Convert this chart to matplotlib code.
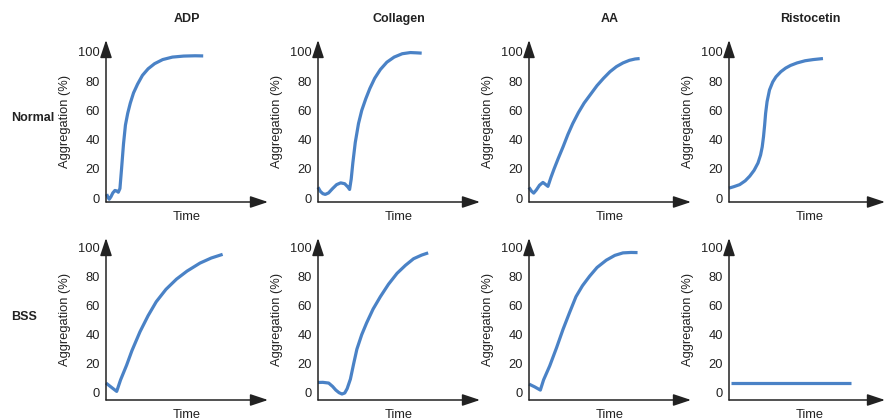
import matplotlib
matplotlib.use("Agg")
import matplotlib.pyplot as plt

plt.rcParams['font.family'] = ['Liberation Sans', 'DejaVu Sans']

# Column (agonist) and row (patient group) names
agonists = ["ADP", "Collagen", "AA", "Ristocetin"]
groups = ["Normal", "BSS"]

# Aggregation traces: time (arbitrary units) and aggregation (%)
normal_adp_t = [0.4, 1.2, 2.0, 3.0, 4.2, 5.5, 6.5, 7.6, 8.6, 9.6, 10.8, 12.0, 13.4, 15.0,
                17.0, 19.5, 22.5, 26, 30, 35, 41, 48, 55, 60]
normal_adp_y = [2.7, 0.5, -0.8, 0.8, 3.5, 5.2, 4.9, 4.0, 6.5, 20, 37, 50, 58, 65,
                72, 78, 84, 88.5, 92, 94.8, 96.5, 97.2, 97.4, 97.3]

normal_col_t = [0, 1.5, 3, 4.5, 6.5, 9, 11.5, 14, 16.5, 18.5, 19.5, 20.5, 21.5, 23, 25,
                27, 29.5, 32, 35, 38.5, 42.5, 47, 52, 57, 61, 64]
normal_col_y = [7.4, 4.5, 3, 2.5, 3.5, 6.5, 9.2, 10.4, 9.8, 7.5, 5.9, 13, 24, 38, 51,
                60, 68, 75, 82, 88, 93, 96.5, 98.8, 99.6, 99.4, 99.2]

normal_aa_t = [0, 1.5, 2.9, 4.5, 6.5, 8.6, 10, 11.7, 13.5, 15.5, 18, 21, 24, 27, 30.5,
               34, 38, 42, 46, 50, 54, 58, 62, 65.5, 68.3]
normal_aa_y = [7.3, 4.8, 3.4, 5.5, 8.8, 10.7, 9.5, 8.0, 14, 20, 27, 35, 43.5, 51, 58.5,
               65, 71, 77, 82, 86.5, 90, 92.5, 94.3, 95.2, 95.5]

normal_ris_t = [0, 3, 6.6, 10, 12.8, 15.5, 17.9, 19.5, 20.5, 21.3, 22, 22.6, 23.5, 25,
                27, 29, 32, 35, 38, 42, 47, 52, 58]
normal_ris_y = [6.8, 7.8, 9.2, 11.8, 15, 19, 24, 29.5, 35, 42, 50, 58, 66, 74,
                79.5, 83, 86.5, 89, 90.8, 92.5, 94, 94.8, 95.5]

bss_adp_t = [0, 3, 6.6, 9, 12.7, 16, 21, 26, 31, 37, 43.5, 50, 58, 65, 72]
bss_adp_y = [6.8, 4.2, 1.1, 9, 19, 29, 42, 53, 62.5, 71, 78, 83.5, 89, 92.5, 95]

bss_col_t = [0, 3, 6.6, 9, 11, 13, 14.8, 16.5, 18, 20, 22, 24, 27, 30, 34, 38.5,
             43.5, 48.8, 54, 59, 64, 68]
bss_col_y = [7.2, 7.3, 6.8, 4.5, 2, 0.2, -0.7, 0, 3, 9.5, 20, 30, 40, 48, 57.5, 66,
             74.5, 82, 87.5, 92, 94.5, 96]

bss_aa_t = [0, 3.5, 7, 9, 12.8, 17, 21, 25, 29, 33, 37.4, 42, 47.7, 53, 58, 63, 67]
bss_aa_y = [6.1, 4.2, 2, 9, 18.6, 31, 43.6, 55, 66, 73.5, 80, 86, 91, 94.3, 96, 96.3, 96.2]

bss_ris_t = [1, 75.5]
bss_ris_y = [6.8, 6.8]

y_ticks = [0, 20, 40, 60, 80, 100]

traces = [
    [(normal_adp_t, normal_adp_y), (normal_col_t, normal_col_y),
     (normal_aa_t, normal_aa_y), (normal_ris_t, normal_ris_y)],
    [(bss_adp_t, bss_adp_y), (bss_col_t, bss_col_y),
     (bss_aa_t, bss_aa_y), (bss_ris_t, bss_ris_y)],
]

W, H = 885, 420
fig = plt.figure(figsize=(W / 100, H / 100), dpi=100)

ink = "#222222"
blue = "#4a82c6"
fs = 9.3
fs_bold = 9.0

col_left_px = [106, 318, 529, 729]
col_width_px = [162, 162, 162, 156]
row_bottom_px = [202, 400]
row_height_px = 162
row_ylim = [(-2.7, 108.2), (-4.8, 106.2)]

for r in range(2):
    for c in range(4):
        left = col_left_px[c] / W
        bottom = 1 - row_bottom_px[r] / H
        width = col_width_px[c] / W
        height = row_height_px / H
        ax = fig.add_axes([left, bottom, width, height])
        ax.set_facecolor("none")
        for s in ax.spines.values():
            s.set_visible(False)
        ax.set_xlim(0, 100 * col_width_px[c] / 162)
        ax.set_ylim(*row_ylim[r])
        ax.set_xticks([])
        ax.set_yticks(y_ticks)
        ax.tick_params(axis="y", length=0, pad=4.5, labelsize=fs, labelcolor=ink)

        t, y = traces[r][c]
        ax.plot(t, y, color=blue, lw=2.3, solid_capstyle="butt",
                solid_joinstyle="round", clip_on=False)

        arrow = dict(arrowstyle="-|>,head_length=0.6,head_width=0.2",
                     color=ink, lw=1.1, shrinkA=0, shrinkB=0, mutation_scale=18)
        ax.annotate("", xy=(1, 0), xytext=(0, 0), xycoords="axes fraction",
                    textcoords="axes fraction", arrowprops=arrow,
                    annotation_clip=False)
        ax.annotate("", xy=(0, 1), xytext=(0, 0), xycoords="axes fraction",
                    textcoords="axes fraction", arrowprops=arrow,
                    annotation_clip=False)

        ax.annotate("Time", xy=(0.5 * 162 / col_width_px[c], 0),
                    xycoords="axes fraction", xytext=(0, -11),
                    textcoords="offset points", ha="center", va="center",
                    fontsize=fs, color=ink, annotation_clip=False)
        ax.annotate("Aggregation (%)", xy=(0, 0.5), xycoords="axes fraction",
                    xytext=(-29.5, 0), textcoords="offset points",
                    rotation=90, ha="center", va="center",
                    fontsize=fs, color=ink, annotation_clip=False)

# Column titles
for c, name in enumerate(agonists):
    cx = (col_left_px[c] + 81) / W
    fig.text(cx, 1 - 19 / H, name, ha="center", va="center",
             fontsize=fs_bold, fontweight="bold", color=ink)

# Row labels
row_label_y = [118, 317]
for r, name in enumerate(groups):
    fig.text(11 / W, 1 - row_label_y[r] / H, name, ha="left", va="center",
             fontsize=fs_bold, fontweight="bold", color=ink)

fig.savefig("out.png", dpi=100)
